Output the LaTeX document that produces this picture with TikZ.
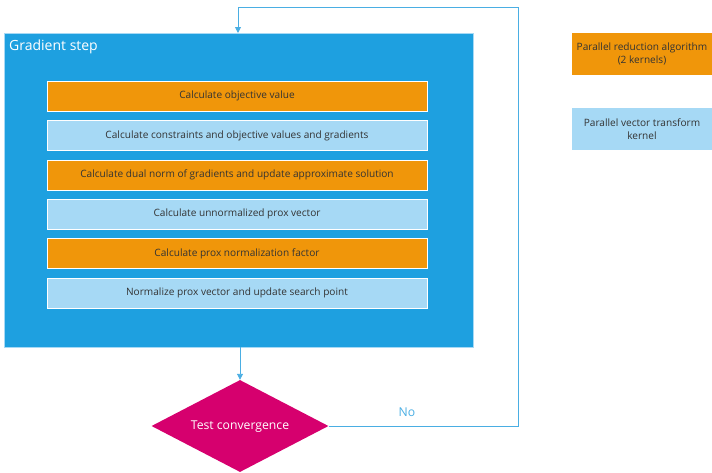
\documentclass[tikz,border=0pt]{standalone}
\usepackage{fontspec}
\setmainfont{Open Sans}
\usetikzlibrary{shapes.geometric,arrows.meta}
\definecolor{bigblue}{HTML}{1EA0E0}
\definecolor{orangebox}{HTML}{F0960A}
\definecolor{lightbox}{HTML}{A6D9F5}
\definecolor{magentad}{HTML}{D6006E}
\definecolor{linkblue}{HTML}{4AAEE3}
\definecolor{txt}{HTML}{333333}
\tikzset{
  outer/.style={draw=lightbox, line width=0.8pt, fill=bigblue, minimum width=469pt, minimum height=314pt, inner sep=0pt},
  stepbox/.style={draw=white, line width=0.8pt, minimum width=380pt, minimum height=30pt, inner sep=0pt, font=\fontsize{10.1}{12}\selectfont, text=txt, text height=7.5pt, text depth=2pt},
  orangestep/.style={stepbox, fill=orangebox},
  lightstep/.style={stepbox, fill=lightbox},
  legendbox/.style={minimum width=140pt, minimum height=42pt, inner sep=0pt, align=center, font=\fontsize{10.1}{12.5}\selectfont, text=txt},
  link/.style={draw=linkblue, line width=0.9pt},
  tip/.style={-{Triangle[length=6pt,width=6pt]}}
}
\begin{document}
\begin{tikzpicture}[x=1pt,y=-1pt]
\useasboundingbox (0,0) rectangle (712,472);
\node[outer] (gs) at (238.5,190) {};
\node[anchor=west, text=white, font=\fontsize{14}{16}\selectfont, inner sep=0pt] (title) at (9,47) {Gradient step};
\node[orangestep] (s1) at (237,96) {Calculate objective value};
\node[lightstep] (s2) at (237,135.5) {Calculate constraints and objective values and gradients};
\node[orangestep] (s3) at (237,175) {Calculate dual norm of gradients and update approximate solution};
\node[lightstep] (s4) at (237,214) {Calculate unnormalized prox vector};
\node[orangestep] (s5) at (237,253.5) {Calculate prox normalization factor};
\node[lightstep] (s6) at (237,293) {Normalize prox vector and update search point};
\node[legendbox, fill=orangebox] (l1) at (642,54) {Parallel reduction algorithm\\(2 kernels)};
\node[legendbox, fill=lightbox] (l2) at (642,129) {Parallel vector transform\\kernel};
\node[diamond, fill=magentad, minimum width=177pt, minimum height=92pt, inner sep=0pt, aspect=1.92, text=white, font=\fontsize{12.2}{14}\selectfont, text height=9pt, text depth=2.5pt] (tc) at (240,426) {Test convergence};
\coordinate (c1) at (518,426);
\coordinate (c2) at (518,7);
\coordinate (c3) at (238,7);
\coordinate (gsin) at (238,33);
\coordinate (gsout) at (240,347);
\draw[link, tip] (gsout) -- (tc.north);
\draw[link, tip] (tc.east) -- (c1) -- (c2) -- (c3) -- (gsin);
\node[text=linkblue, font=\fontsize{12.2}{14}\selectfont] (no) at (407,412) {No};
\end{tikzpicture}
\end{document}
